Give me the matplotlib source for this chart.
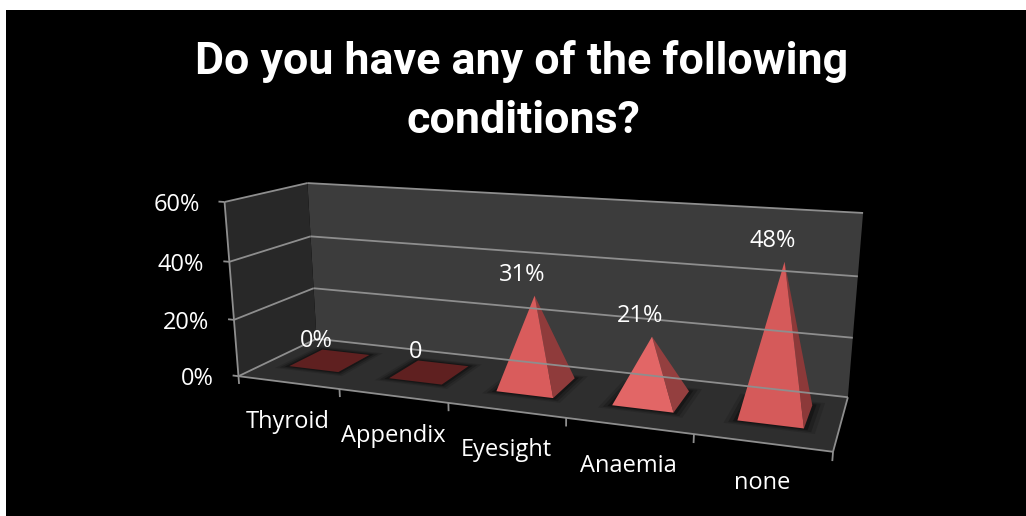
import numpy as np
import matplotlib
matplotlib.use('Agg')
from matplotlib import pyplot as plt
from matplotlib.patches import Polygon, Rectangle

# chart data
categories = ['Thyroid', 'Appendix', 'Eyesight', 'Anaemia', 'none']
values = [0, 0, 31, 21, 48]
value_labels = ['0%', '0', '31%', '21%', '48%']
y_ticks = [0, 20, 40, 60]

W, H = 1026, 516

# corners of the box (category, depth, value) and where they land on the picture
box_pts = [(0, 0, 0), (5, 0, 0), (0, 1, 0), (5, 1, 0), (0, 0, 60), (0, 1, 60), (5, 1, 60)]
pix_pts = [(239, 376), (833, 452), (316, 339), (848, 397), (224, 202), (308, 183), (863, 213)]


def fit_camera(src, dst):
    rows = []
    for (x, y, z), (u, v) in zip(src, dst):
        rows.append([x, y, z, 1, 0, 0, 0, 0, -u * x, -u * y, -u * z, -u])
        rows.append([0, 0, 0, 0, x, y, z, 1, -v * x, -v * y, -v * z, -v])
    return np.linalg.svd(np.array(rows, float))[2][-1].reshape(3, 4)


cam = fit_camera(box_pts, pix_pts)


def proj(x, y, z):
    p = cam @ np.array([x, y, z, 1.0])
    return p[0] / p[2], p[1] / p[2]


def face(ax, pts, color, **kw):
    ax.add_patch(Polygon([proj(*p) for p in pts], closed=True, facecolor=color, edgecolor='none', **kw))


def seg(ax, a, b, color='#8e8e8e', lw=1.3):
    pa, pb = proj(*a), proj(*b)
    ax.plot([pa[0], pb[0]], [pa[1], pb[1]], color=color, lw=lw, solid_capstyle='butt')


fig = plt.figure(figsize=(W / 100, H / 100), dpi=100, facecolor='white')
ax = fig.add_axes([0, 0, 1, 1])
ax.set_xlim(0, W)
ax.set_ylim(H, 0)
ax.axis('off')
ax.add_patch(Rectangle((6, 10), W - 6, H - 10, facecolor='black', edgecolor='none'))

text_font = ['Open Sans', 'DejaVu Sans']
title_font = ['Roboto', 'Liberation Sans', 'DejaVu Sans']
ax.text(522, 74, 'Do you have any of the following', color='white', fontsize=32.2, fontweight='bold',
        family=title_font, ha='center', va='baseline')
ax.text(523, 133, 'conditions?', color='white', fontsize=32.2, fontweight='bold',
        family=title_font, ha='center', va='baseline')

# walls and floor
face(ax, [(0, 1, 0), (5, 1, 0), (5, 1, 60), (0, 1, 60)], '#3c3c3c')
face(ax, [(0, 0, 0), (0, 1, 0), (0, 1, 60), (0, 0, 60)], '#282828')
face(ax, [(0, 0, 0), (5, 0, 0), (5, 1, 0), (0, 1, 0)], '#2e2e2e')

# gridlines
for h in y_ticks:
    seg(ax, (0, 0, h), (0, 1, h))
    seg(ax, (0, 1, h), (5, 1, h))
    seg(ax, (-0.06, 0, h), (0, 0, h))
    x, y = proj(0, 0, h)
    ax.text(x - 25, y + 3, f'{h}%', color='white', fontsize=17, family=text_font, ha='right', va='center')
seg(ax, (0, 0, 0), (0, 0, 60))
seg(ax, (0, 0, 0), (5, 0, 0))
seg(ax, (5, 0, 0), (5, 1, 0))
for i in range(len(categories) + 1):
    seg(ax, (i, 0, 0), (i, 0, -2.8))

# pyramids
hw = 0.25
d0, d1 = 0.32, 0.76
dc = (d0 + d1) / 2 - 0.03
front_cols = ['#d95c5c', '#d95c5c', '#d95c5c', '#e26666', '#d55a5a']
side_cols = ['#8f3b3b', '#8f3b3b', '#8f3b3b', '#943f3f', '#8c3939']
for i, (cat, val, lab) in enumerate(zip(categories, values, value_labels)):
    c = i + 0.5
    # soft shadow on the floor
    for grow, a in [(0.09, 0.12), (0.06, 0.2), (0.03, 0.3)]:
        g = grow * 0.8
        face(ax, [(c - hw - grow, d0 - g, 0), (c + hw + grow, d0 - g, 0),
                  (c + hw + grow, d1 + g, 0), (c - hw - grow, d1 + g, 0)], 'black', alpha=a)
    base = [(c - hw, d0, 0), (c + hw, d0, 0), (c + hw, d1, 0), (c - hw, d1, 0)]
    if val == 0:
        face(ax, base, '#5f2020')
    else:
        apex = (c, dc, val)
        face(ax, [base[1], base[2], apex], side_cols[i])
        face(ax, [base[0], base[1], apex], front_cols[i])
    x, y = proj(c, dc, val)
    ax.text(x - 12, y - 21, lab, color='white', fontsize=17, family=text_font, ha='center', va='center')
    x, y = proj(c, 0, 0)
    ax.text(x, y + 40, cat, color='white', fontsize=17, family=text_font, ha='center', va='center')

fig.savefig('out.png', dpi=100, facecolor='white')
